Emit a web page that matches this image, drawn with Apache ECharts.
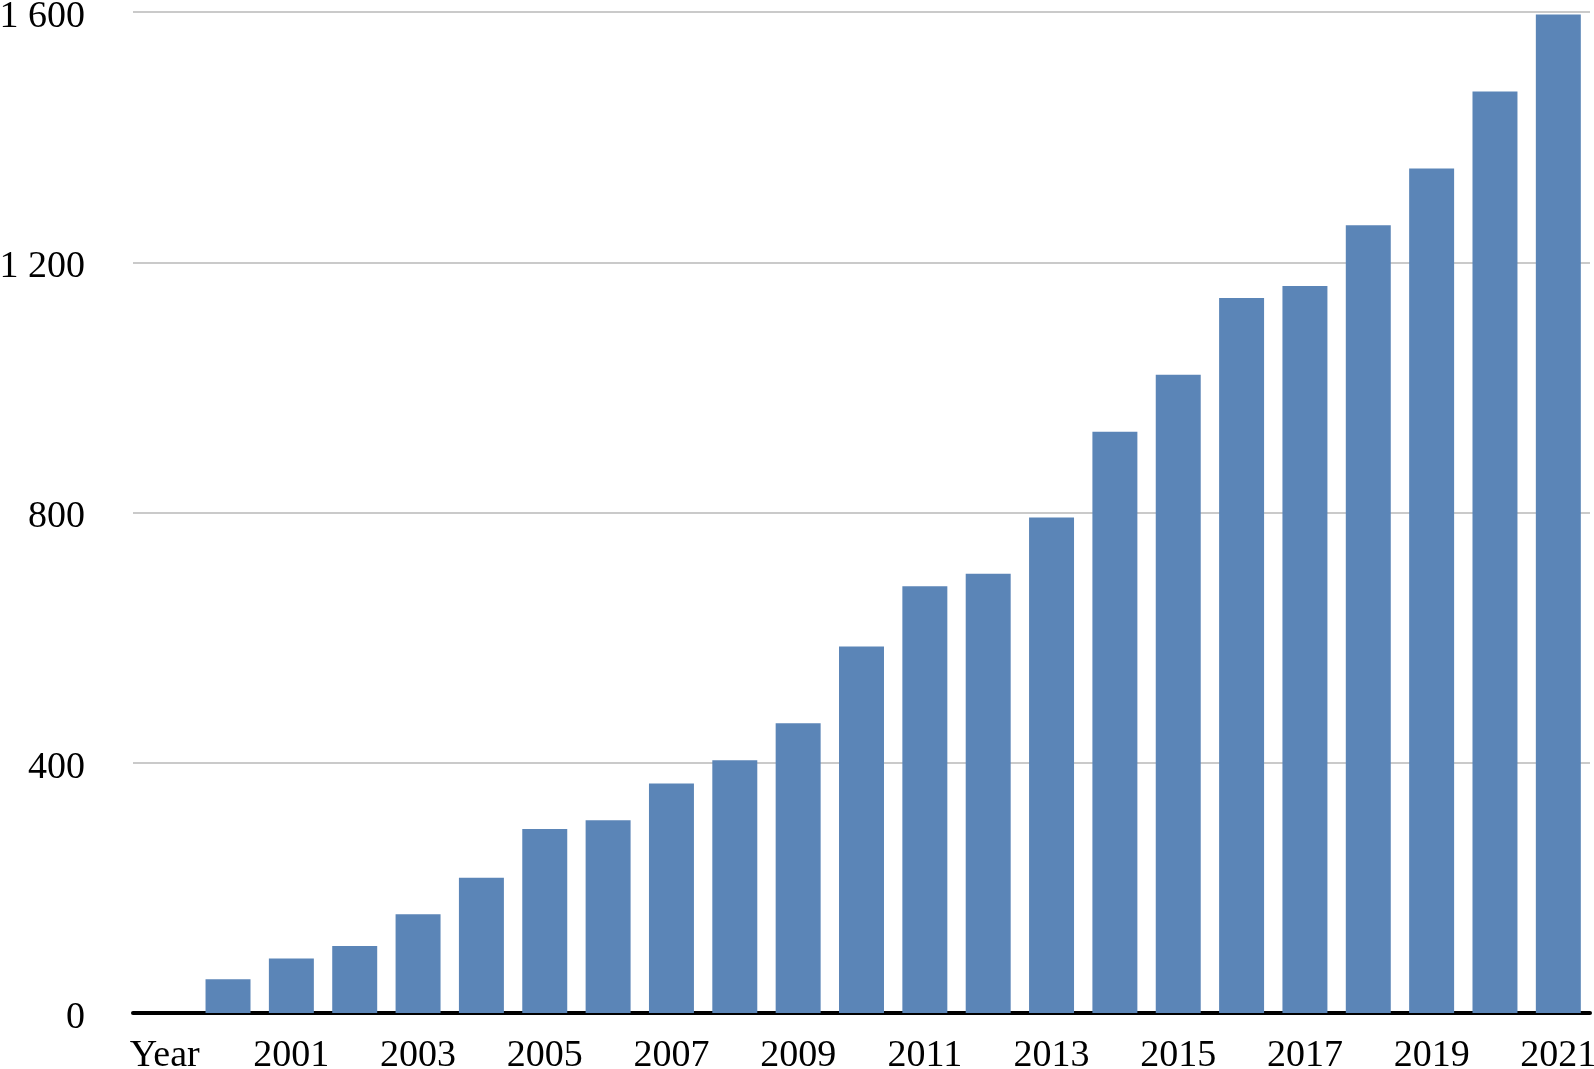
<!DOCTYPE html>
<html>
<head>
<meta charset="utf-8">
<script src="https://cdn.jsdelivr.net/npm/echarts@6/dist/echarts.min.js"></script>
<style>
  html, body { margin: 0; padding: 0; background: #fff; }
  #chart { width: 1594px; height: 1069px; }
</style>
</head>
<body>
<div id="chart"></div>
<script>
// first slot is the "Year" label column, no bar there
const categories = ['Year', '2000', '2001', '2002', '2003', '2004', '2005', '2006', '2007',
  '2008', '2009', '2010', '2011', '2012', '2013', '2014', '2015', '2016', '2017',
  '2018', '2019', '2020', '2021']
const counts = [null, 54, 87, 107, 158, 216, 294, 308, 367, 404, 463, 586, 682, 702, 792,
  929, 1020, 1143, 1162, 1259, 1350, 1473, 1596]
const yTicks = [0, 400, 800, 1200, 1600]

const FONT = '"Liberation Serif", "Times New Roman", serif'

const chart = echarts.init(document.getElementById('chart'))

chart.setOption({
  animation: false,
  grid: { left: 133, right: 4, top: 12, bottom: 56, outerBoundsMode: 'none', containLabel: false },
  xAxis: {
    type: 'category',
    data: categories,
    axisLine: { show: true, lineStyle: { color: '#000', width: 4 } },
    axisTick: { show: false },
    axisLabel: {
      interval: 1,
      margin: 24,
      color: '#000',
      fontFamily: FONT,
      fontSize: 38
    }
  },
  yAxis: {
    type: 'value',
    min: yTicks[0],
    max: yTicks[yTicks.length - 1],
    interval: 400,
    axisLine: { show: false },
    axisTick: { show: false },
    splitLine: { lineStyle: { color: '#b8b8b8', width: 1.5 } },
    axisLabel: {
      margin: 48,
      formatter: v => '{v|' + String(v).replace(/\B(?=(\d{3})+(?!\d))/g, ' ') + '}',
      rich: {
        v: { color: '#000', fontFamily: FONT, fontSize: 38, padding: [10, 0, 0, 0] }
      }
    }
  },
  series: [{
    type: 'bar',
    data: counts,
    barWidth: '71%',
    itemStyle: { color: '#5b85b7' }
  }]
})
</script>
</body>
</html>
